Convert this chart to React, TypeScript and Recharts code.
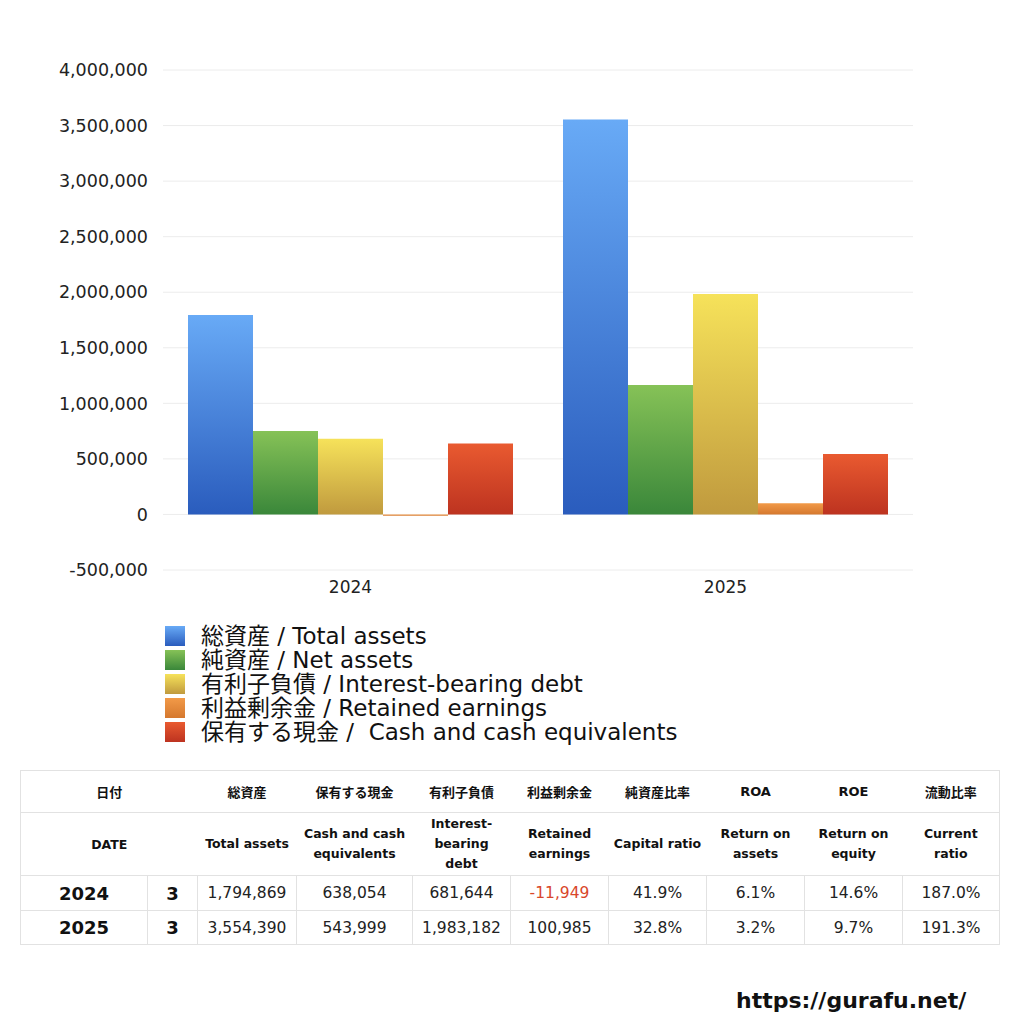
import { BarChart, Bar, XAxis, YAxis, CartesianGrid } from "recharts";

const years = ["2024", "2025"];
const totalAssets = [1794869, 3554390];
const netAssets = [752050, 1165840];
const interestDebt = [681644, 1983182];
const retainedEarnings = [-11949, 100985];
const cash = [638054, 543999];
const yTicks = [-500000, 0, 500000, 1000000, 1500000, 2000000, 2500000, 3000000, 3500000, 4000000];

const seriesKeys = ["total", "net", "debt", "retained", "cash"];
const seriesLabels = [
  "総資産 / Total assets",
  "純資産 / Net assets",
  "有利子負債 / Interest-bearing debt",
  "利益剰余金 / Retained earnings",
  "保有する現金 /  Cash and cash equivalents",
];
const gradTop = ["#68aaf6", "#86c257", "#f6e25a", "#f29a48", "#e95a30"];
const gradBottom = ["#2a5cbd", "#3a873a", "#c09a3e", "#d5782e", "#bd3320"];

const headJa = ["総資産", "保有する現金", "有利子負債", "利益剰余金", "純資産比率", "ROA", "ROE", "流動比率"];
const headEn = [
  "Total assets",
  "Cash and cash\nequivalents",
  "Interest-\nbearing\ndebt",
  "Retained\nearnings",
  "Capital ratio",
  "Return on\nassets",
  "Return on\nequity",
  "Current\nratio",
];
const months = ["3", "3"];
const capitalRatio = ["41.9%", "32.8%"];
const roa = ["6.1%", "3.2%"];
const roe = ["14.6%", "9.7%"];
const currentRatio = ["187.0%", "191.3%"];

const colWidths = [127, 50, 99, 116, 98, 98, 98, 98, 98, 97];

const data = years.map((y, i) => ({
  year: y,
  total: totalAssets[i],
  net: netAssets[i],
  debt: interestDebt[i],
  retained: retainedEarnings[i],
  cash: cash[i],
}));

const fmt = (v: number) => v.toLocaleString("en-US");
const font = '"DejaVu Sans", "Noto Sans CJK JP", sans-serif';
const line = "1px solid #e2e2e2";

export default function App() {
  return (
    <div
      style={{
        position: "absolute",
        left: 0,
        top: 0,
        width: 1024,
        height: 1024,
        background: "#fff",
        fontFamily: font,
        color: "#111",
      }}
    >
      <BarChart
        width={1024}
        height={610}
        data={data}
        margin={{ top: 70, right: 111, bottom: 0, left: 0 }}
        barCategoryGap={25}
        barGap={0}
      >
        <defs>
          {seriesKeys.map((k, i) => (
            <linearGradient key={k} id={`g-${k}`} x1="0" y1="0" x2="0" y2="1">
              <stop offset="0%" stopColor={gradTop[i]} />
              <stop offset="100%" stopColor={gradBottom[i]} />
            </linearGradient>
          ))}
        </defs>
        <CartesianGrid vertical={false} stroke="#ececec" />
        <XAxis
          dataKey="year"
          axisLine={false}
          tickLine={false}
          tickSize={0}
          tickMargin={11}
          height={40}
          tick={{ fontSize: 17, fill: "#222", fontFamily: font }}
        />
        <YAxis
          domain={[-500000, 4000000]}
          ticks={yTicks}
          interval={0}
          width={163}
          axisLine={false}
          tickLine={false}
          tickSize={0}
          tickMargin={15}
          tick={{ fontSize: 17.5, fill: "#222", fontFamily: font }}
          tickFormatter={(v: number) => fmt(v)}
        />
        {seriesKeys.map((k) => (
          <Bar key={k} dataKey={k} fill={`url(#g-${k})`} isAnimationActive={false} />
        ))}
      </BarChart>

      <div style={{ position: "absolute", left: 165, top: 624 }}>
        {seriesLabels.map((label, i) => (
          <div key={label} style={{ display: "flex", alignItems: "center", height: 24 }}>
            <div
              style={{
                width: 20,
                height: 20,
                background: `linear-gradient(${gradTop[i]}, ${gradBottom[i]})`,
                marginRight: 16,
                flexShrink: 0,
              }}
            />
            <span style={{ fontSize: 23, lineHeight: "24px", color: "#111", whiteSpace: "pre" }}>{label}</span>
          </div>
        ))}
      </div>

      <table
        style={{
          position: "absolute",
          left: 20,
          top: 770,
          width: 979,
          borderCollapse: "collapse",
          tableLayout: "fixed",
          border: line,
          fontFamily: font,
        }}
      >
        <colgroup>
          {colWidths.map((w, i) => (
            <col key={i} style={{ width: w }} />
          ))}
        </colgroup>
        <tbody>
          <tr style={{ height: 42 }}>
            <td colSpan={2} style={{ textAlign: "center", fontSize: 13, fontWeight: 700, borderBottom: line }}>
              日付
            </td>
            {headJa.map((h) => (
              <td key={h} style={{ textAlign: "center", fontSize: 13, fontWeight: 700, borderBottom: line }}>
                {h}
              </td>
            ))}
          </tr>
          <tr style={{ height: 63 }}>
            <td colSpan={2} style={{ textAlign: "center", fontSize: 12.5, fontWeight: 700, borderBottom: line }}>
              DATE
            </td>
            {headEn.map((h) => (
              <td
                key={h}
                style={{
                  textAlign: "center",
                  fontSize: 12.5,
                  fontWeight: 700,
                  lineHeight: "20px",
                  padding: 0,
                  whiteSpace: "pre",
                  borderBottom: line,
                }}
              >
                {h}
              </td>
            ))}
          </tr>
          {years.map((y, i) => {
            const cells = [
              fmt(totalAssets[i]),
              fmt(cash[i]),
              fmt(interestDebt[i]),
              fmt(retainedEarnings[i]),
              capitalRatio[i],
              roa[i],
              roe[i],
              currentRatio[i],
            ];
            return (
              <tr key={y} style={{ height: i === 0 ? 35 : 34 }}>
                <td style={{ textAlign: "center", fontSize: 18, fontWeight: 700, borderRight: line, borderBottom: line }}>
                  {y}
                </td>
                <td style={{ textAlign: "center", fontSize: 18, fontWeight: 700, borderRight: line, borderBottom: line }}>
                  {months[i]}
                </td>
                {cells.map((c, j) => (
                  <td
                    key={j}
                    style={{
                      textAlign: "center",
                      fontSize: 15.5,
                      borderRight: line,
                      borderBottom: line,
                      color: j === 3 && retainedEarnings[i] < 0 ? "#d9472b" : "#222",
                      padding: 0,
                    }}
                  >
                    {c}
                  </td>
                ))}
              </tr>
            );
          })}
        </tbody>
      </table>

      <div
        style={{
          position: "absolute",
          left: 736,
          top: 988,
          fontSize: 22,
          fontWeight: 700,
          color: "#111",
        }}
      >
        https://gurafu.net/
      </div>
    </div>
  );
}
